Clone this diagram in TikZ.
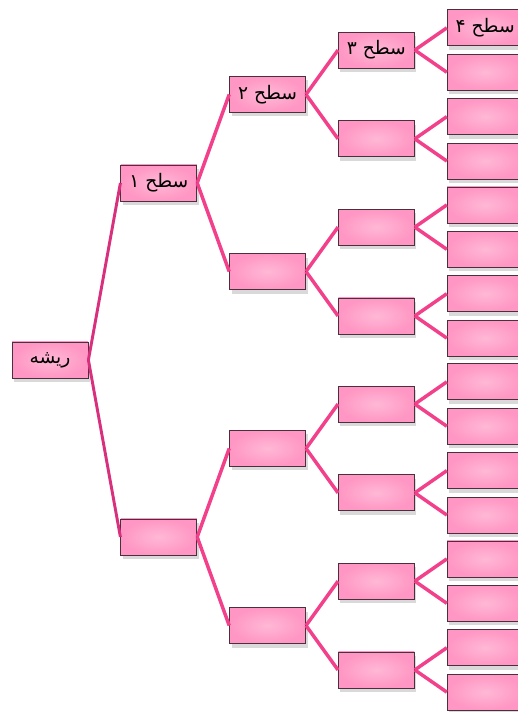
\documentclass[tikz,border=0pt]{standalone}
\usepackage{fontspec}
\newfontfamily\arabicfont[Script=Arabic]{DejaVu Sans}
\TeXXeTstate=1
\usetikzlibrary{positioning,shadows}
\definecolor{boxLight}{HTML}{FFB8D6}
\definecolor{boxDark}{HTML}{FF96C3}
\definecolor{boxLine}{HTML}{4A2F3C}
\definecolor{branch}{HTML}{F2408A}
\definecolor{rootBranch}{HTML}{D8307C}

\begin{document}
\begin{tikzpicture}[box/.style={draw=boxLine,line width=0.6pt,inner color=boxLight,outer color=boxDark,minimum width=57pt,minimum height=27pt,inner sep=1pt,font=\arabicfont\fontsize{14}{16}\selectfont,drop shadow={opacity=0.3,shadow xshift=1.5pt,shadow yshift=-3pt}},
  link/.style={draw=branch,line width=2.6pt},
  rootlink/.style={draw=rootBranch,line width=2.2pt},
  node distance=24pt]
\useasboundingbox (0,0) rectangle (387.75pt,534pt);
% root and levels 1-2
\node[box] (root) at (37.5pt,264pt) {\beginR ریشه\endR};
\node[box,right=of root,yshift=132.75pt] (sOne1) {\beginR سطح ۱\endR};
\node[box,right=of root,yshift=-132.75pt] (sOne2) {};
\node[box,right=of sOne1,yshift=66.4pt] (sTwo1) {\beginR سطح ۲\endR};
\node[box,right=of sOne1,yshift=-66.4pt] (sTwo2) {};
\node[box,right=of sOne2,yshift=66.4pt] (sTwo3) {};
\node[box,right=of sOne2,yshift=-66.4pt] (sTwo4) {};
% level 3
\node[box,right=of sTwo1,yshift=33.3pt] (sThree1) {\beginR سطح ۳\endR};
\node[box,right=of sTwo1,yshift=-33.3pt] (sThree2) {};
\node[box,right=of sTwo2,yshift=33.3pt] (sThree3) {};
\node[box,right=of sTwo2,yshift=-33.3pt] (sThree4) {};
\node[box,right=of sTwo3,yshift=33.3pt] (sThree5) {};
\node[box,right=of sTwo3,yshift=-33.3pt] (sThree6) {};
\node[box,right=of sTwo4,yshift=33.3pt] (sThree7) {};
\node[box,right=of sTwo4,yshift=-33.3pt] (sThree8) {};
% level 4
\node[box,right=of sThree1,yshift=16.65pt] (sFour1) {\beginR سطح ۴\endR};
\node[box,right=of sThree1,yshift=-16.65pt] (sFour2) {};
\node[box,right=of sThree2,yshift=16.65pt] (sFour3) {};
\node[box,right=of sThree2,yshift=-16.65pt] (sFour4) {};
\node[box,right=of sThree3,yshift=16.65pt] (sFour5) {};
\node[box,right=of sThree3,yshift=-16.65pt] (sFour6) {};
\node[box,right=of sThree4,yshift=16.65pt] (sFour7) {};
\node[box,right=of sThree4,yshift=-16.65pt] (sFour8) {};
\node[box,right=of sThree5,yshift=16.65pt] (sFour9) {};
\node[box,right=of sThree5,yshift=-16.65pt] (sFour10) {};
\node[box,right=of sThree6,yshift=16.65pt] (sFour11) {};
\node[box,right=of sThree6,yshift=-16.65pt] (sFour12) {};
\node[box,right=of sThree7,yshift=16.65pt] (sFour13) {};
\node[box,right=of sThree7,yshift=-16.65pt] (sFour14) {};
\node[box,right=of sThree8,yshift=16.65pt] (sFour15) {};
\node[box,right=of sThree8,yshift=-16.65pt] (sFour16) {};
% branches
\draw[rootlink] (root.east)--(sOne1.west);
\draw[rootlink] (root.east)--(sOne2.west);
\draw[link] (sOne1.east)--(sTwo1.west);
\draw[link] (sOne1.east)--(sTwo2.west);
\draw[link] (sOne2.east)--(sTwo3.west);
\draw[link] (sOne2.east)--(sTwo4.west);
\draw[link] (sTwo1.east)--(sThree1.west);
\draw[link] (sTwo1.east)--(sThree2.west);
\draw[link] (sTwo2.east)--(sThree3.west);
\draw[link] (sTwo2.east)--(sThree4.west);
\draw[link] (sTwo3.east)--(sThree5.west);
\draw[link] (sTwo3.east)--(sThree6.west);
\draw[link] (sTwo4.east)--(sThree7.west);
\draw[link] (sTwo4.east)--(sThree8.west);
\draw[link] (sThree1.east)--(sFour1.west);
\draw[link] (sThree1.east)--(sFour2.west);
\draw[link] (sThree2.east)--(sFour3.west);
\draw[link] (sThree2.east)--(sFour4.west);
\draw[link] (sThree3.east)--(sFour5.west);
\draw[link] (sThree3.east)--(sFour6.west);
\draw[link] (sThree4.east)--(sFour7.west);
\draw[link] (sThree4.east)--(sFour8.west);
\draw[link] (sThree5.east)--(sFour9.west);
\draw[link] (sThree5.east)--(sFour10.west);
\draw[link] (sThree6.east)--(sFour11.west);
\draw[link] (sThree6.east)--(sFour12.west);
\draw[link] (sThree7.east)--(sFour13.west);
\draw[link] (sThree7.east)--(sFour14.west);
\draw[link] (sThree8.east)--(sFour15.west);
\draw[link] (sThree8.east)--(sFour16.west);
\end{tikzpicture}
\end{document}
